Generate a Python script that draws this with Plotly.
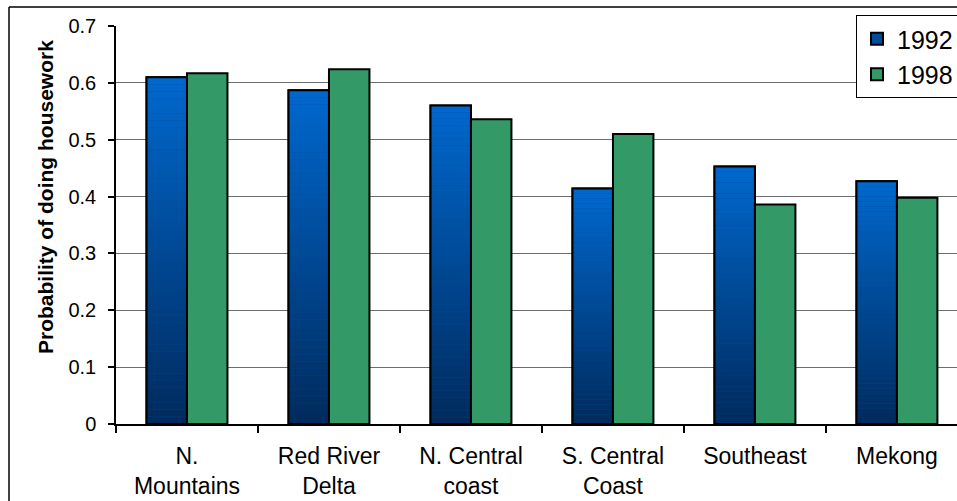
import plotly.graph_objects as go

# Regional probability of doing housework, 1992 vs 1998
regions = ["N.<br>Mountains", "Red River<br>Delta", "N. Central<br>coast",
           "S. Central<br>Coast", "Southeast", "Mekong"]
years = ["1992", "1998"]
p1992 = [0.610, 0.587, 0.560, 0.414, 0.453, 0.427]
p1998 = [0.617, 0.624, 0.536, 0.510, 0.386, 0.398]
y_ticks = [0, 0.1, 0.2, 0.3, 0.4, 0.5, 0.6, 0.7]

FONT = "Arial, Liberation Sans, sans-serif"
BAR_W = 0.285
N_SEG = 48
TOP_RGB = (0, 104, 206)
BOT_RGB = (0, 42, 92)


def blend(f):
    """Colour at fraction f of the bar height (0 bottom, 1 top)."""
    return "rgb({},{},{})".format(*[round(b + (t - b) * f) for t, b in zip(TOP_RGB, BOT_RGB)])


fig = go.Figure()

# legend entry / base layer for the 1992 series
fig.add_trace(go.Bar(
    x=regions, y=p1992, name=years[0], width=BAR_W, offset=-BAR_W,
    marker=dict(color=blend(0.55), line=dict(color="black", width=2)),
))

# vertical gradient fill for the 1992 bars, built from stacked slices
for k in range(N_SEG):
    fig.add_trace(go.Bar(
        x=regions, y=[v / N_SEG for v in p1992], base=[v * k / N_SEG for v in p1992],
        width=BAR_W, offset=-BAR_W, showlegend=False, hoverinfo="skip",
        marker=dict(color=blend((k + 0.5) / N_SEG), line=dict(width=0)),
    ))

# outline on top of the gradient
fig.add_trace(go.Bar(
    x=regions, y=p1992, width=BAR_W, offset=-BAR_W, showlegend=False,
    marker=dict(color="rgba(0,0,0,0)", line=dict(color="black", width=2)),
))

fig.add_trace(go.Bar(
    x=regions, y=p1998, name=years[1], width=BAR_W, offset=0,
    marker=dict(color="#339966", line=dict(color="black", width=2)),
))

fig.update_layout(
    width=957, height=501,
    margin=dict(l=116, r=0, t=26, b=77, autoexpand=False),
    barmode="overlay",
    plot_bgcolor="white", paper_bgcolor="white",
    font=dict(family=FONT, color="black"),
    showlegend=True,
    legend=dict(
        x=(856 - 116) / 841, y=(424 - 15) / 398, xanchor="left", yanchor="top",
        bordercolor="black", borderwidth=1, bgcolor="white",
        font=dict(size=25, family=FONT, color="black"),
        tracegroupgap=0, itemsizing="constant",
    ),
    xaxis=dict(
        type="category", range=[-0.5, 5.423],
        showline=True, linecolor="black", linewidth=1.5,
        ticks="outside", tickson="boundaries", ticklen=7, tickcolor="black", tickwidth=1.5,
        showgrid=False, tickfont=dict(size=23, family=FONT, color="black"),
        ticklabelstandoff=11,
    ),
    yaxis=dict(
        range=[0, 0.7], tickvals=y_ticks, ticktext=[f"{t:g}" for t in y_ticks],
        showline=True, linecolor="black", linewidth=1.5,
        ticks="outside", ticklen=6, tickcolor="black", tickwidth=1.5,
        showgrid=True, gridcolor="#6e6e6e", gridwidth=1.2, zeroline=False,
        tickfont=dict(size=20, family=FONT, color="black"),
        ticklabelstandoff=8,
    ),
    annotations=[dict(
        text="<b>Probability of doing housework</b>", textangle=-90,
        xref="paper", yref="paper", x=(45 - 116) / 841, y=(424 - 197) / 398,
        xanchor="center", yanchor="middle", showarrow=False,
        font=dict(size=21, family=FONT, color="black"),
    )],
    shapes=[
        dict(type="line", xref="paper", yref="paper",
             x0=(9 - 116) / 841, x1=(9 - 116) / 841, y0=-0.3, y1=(424 - 7) / 398,
             line=dict(color="black", width=1.5)),
        dict(type="line", xref="paper", yref="paper",
             x0=(9 - 116) / 841, x1=1.1, y0=(424 - 7) / 398, y1=(424 - 7) / 398,
             line=dict(color="black", width=1.5)),
    ],
)

fig.write_html("out.html")
